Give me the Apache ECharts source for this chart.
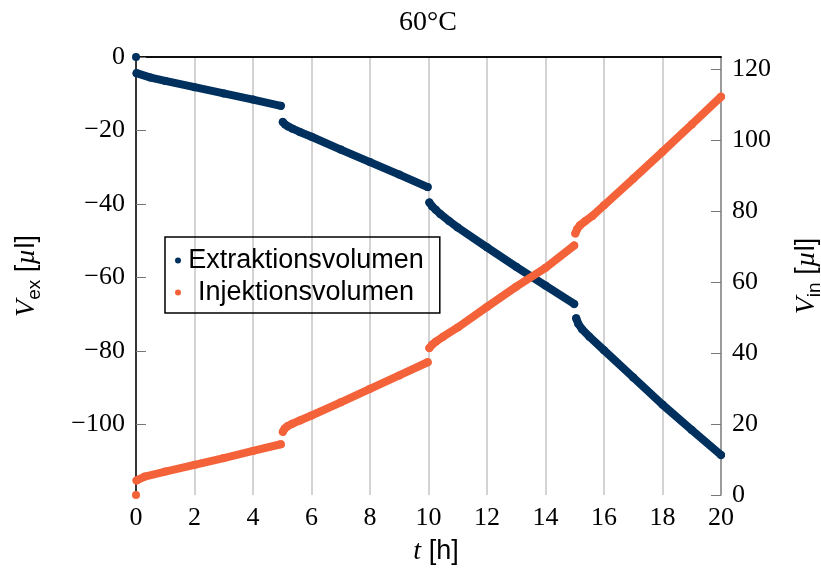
<!DOCTYPE html>
<html>
<head>
<meta charset="utf-8">
<script src="https://cdn.jsdelivr.net/npm/echarts@6/dist/echarts.min.js"></script>
<style>
html,body{margin:0;padding:0;background:#fff;}
#c{width:821px;height:575px;}
</style>
</head>
<body>
<div id="c"></div>
<script>
// ---- data ----
const xTicks = [0, 2, 4, 6, 8, 10, 12, 14, 16, 18, 20];
const leftTicks = [-100, -80, -60, -40, -20, 0];
const rightTicks = [0, 20, 40, 60, 80, 100, 120];

// Extraktionsvolumen (left axis), four segments + start point
const exStartT = [0];
const exStartV = [0];
const exT1 = [0.02, 0.5, 1, 2, 3, 4, 4.95];
const exV1 = [-4.4, -5.6, -6.5, -8.2, -9.9, -11.6, -13.3];
const exT2 = [5.02, 5.1, 5.2, 5.35, 5.6, 6, 7, 8, 9, 9.97];
const exV2 = [-17.7, -18.4, -18.9, -19.5, -20.4, -21.7, -25.2, -28.6, -32.0, -35.4];
const exT3 = [10.03, 10.12, 10.25, 10.4, 10.7, 11, 12, 13, 14, 14.98];
const exV3 = [-39.6, -40.6, -41.6, -42.7, -44.6, -46.4, -51.8, -57.1, -62.2, -67.2];
const exT4 = [15.05, 15.12, 15.25, 15.5, 16, 17, 18, 19, 20];
const exV4 = [-71.1, -72.6, -74.1, -76.1, -79.8, -87.2, -94.6, -101.5, -108.3];

// Injektionsvolumen (right axis)
const inStartT = [0];
const inStartV = [0];
const inT1 = [0.02, 0.3, 1, 2, 3, 4, 4.95];
const inV1 = [4.1, 5.2, 6.6, 8.5, 10.4, 12.4, 14.3];
const inT2 = [5.02, 5.08, 5.18, 5.35, 5.6, 6, 7, 8, 9, 9.97];
const inV2 = [17.8, 18.7, 19.4, 20.1, 21.0, 22.4, 26.1, 29.9, 33.7, 37.4];
const inT3 = [10.03, 10.12, 10.25, 10.5, 11, 12, 13, 14, 14.98];
const inV3 = [41.4, 42.3, 43.2, 44.6, 47.2, 53.0, 58.7, 64.0, 70.3];
const inT4 = [15.02, 15.08, 15.18, 15.35, 15.6, 16, 17, 18, 19, 20];
const inV4 = [73.7, 74.9, 76.0, 77.1, 78.6, 81.6, 89.1, 96.7, 104.4, 112.2];

function build(pairs) {
  const out = [];
  pairs.forEach(function (p, k) {
    if (k > 0) out.push([p[0][0], '-']);
    p[0].forEach(function (t, i) { out.push([t, p[1][i]]); });
  });
  return out;
}
const exData = build([[exStartT, exStartV], [exT1, exV1], [exT2, exV2], [exT3, exV3], [exT4, exV4]]);
const inData = build([[inStartT, inStartV], [inT1, inV1], [inT2, inV2], [inT3, inV3], [inT4, inV4]]);

const navy = '#00305e';
const orange = '#f4623a';
const serif = '"Liberation Serif", "DejaVu Serif", serif';
const sans = '"Liberation Sans", Arial, sans-serif';

const chart = echarts.init(document.getElementById('c'), null, {renderer: 'canvas'});
const minusFmt = function (v) { return v < 0 ? '\u2212' + Math.abs(v) : String(v); };

const nameRich = {
  v: {fontFamily: serif, fontStyle: 'italic', fontSize: 28, color: '#000', lineHeight: 34},
  sub: {fontFamily: sans, fontSize: 19, color: '#000', verticalAlign: 'bottom', lineHeight: 19},
  s: {fontFamily: sans, fontSize: 27, color: '#000', lineHeight: 34},
  mu: {fontFamily: serif, fontStyle: 'italic', fontSize: 28, color: '#000', lineHeight: 34}
};

chart.setOption({
  animation: false,
  backgroundColor: '#fff',
  grid: {left: 136, right: 100, top: 57, bottom: 80, containLabel: false, outerBoundsMode: 'none'},
  graphic: [{
    type: 'text', x: 428, y: 23,
    style: {text: '60°C', font: '28px ' + serif, fill: '#000', align: 'center', verticalAlign: 'middle'}
  }],
  legend: {
    left: 165, top: 237,
    orient: 'vertical',
    padding: [10, 16, 7, 10],
    itemGap: 5,
    itemWidth: 6, itemHeight: 6,
    borderColor: '#000', borderWidth: 1.5,
    backgroundColor: 'transparent',
    data: [{name: 'Extraktionsvolumen', icon: 'circle'}, {name: 'Injektionsvolumen', icon: 'circle'}],
    formatter: function (n) { return '{c|' + n + '}'; },
    textStyle: {
      fontFamily: sans, fontSize: 27, color: '#000',
      rich: {c: {width: 240, align: 'center', fontSize: 27, fontFamily: sans, color: '#000'}}
    }
  },
  xAxis: [{
    type: 'value', min: 0, max: 20, interval: 2, position: 'bottom',
    axisLine: {show: true, lineStyle: {color: '#000', width: 1.5}},
    axisTick: {show: false},
    splitLine: {show: true, lineStyle: {color: '#c4c4c4', width: 1.5}},
    axisLabel: {fontFamily: serif, fontSize: 26, color: '#000', margin: 10},
    name: '{it|t}{s| [h]}',
    nameLocation: 'middle', nameGap: 43,
    nameTextStyle: {
      padding: [0, 0, 0, 15],
      rich: {
        it: {fontFamily: serif, fontStyle: 'italic', fontSize: 28, color: '#000'},
        s: {fontFamily: sans, fontSize: 27, color: '#000'}
      }
    }
  }, {
    type: 'value', min: 0, max: 20, position: 'top',
    axisLine: {show: true, onZero: false, lineStyle: {color: '#000', width: 1.5}},
    axisTick: {show: false}, axisLabel: {show: false}, splitLine: {show: false}
  }],
  yAxis: [{
    type: 'value', min: -119.2, max: 0, position: 'left',
    axisLine: {show: true, onZero: false, lineStyle: {color: '#000', width: 1.5}},
    axisTick: {show: true, inside: true, length: 10, customValues: leftTicks, lineStyle: {color: '#777', width: 1}},
    axisLabel: {customValues: leftTicks, formatter: minusFmt, fontFamily: serif, fontSize: 26, color: '#000', margin: 11},
    splitLine: {show: false},
    name: '{v|V}{sub|ex}{s| [}{mu|µ}{s|l]}',
    nameLocation: 'middle', nameRotate: 90, nameGap: 92,
    nameTextStyle: {rich: nameRich}
  }, {
    type: 'value', min: 0, max: 123.4, position: 'right',
    axisLine: {show: true, onZero: false, lineStyle: {color: '#888', width: 1.5}},
    axisTick: {show: true, inside: true, length: 10, customValues: rightTicks, lineStyle: {color: '#777', width: 1}},
    axisLabel: {customValues: rightTicks, fontFamily: serif, fontSize: 26, color: '#000', margin: 11},
    splitLine: {show: false},
    name: '{v|V}{sub|in}{s| [}{mu|µ}{s|l]}',
    nameLocation: 'middle', nameRotate: 90, nameGap: 69,
    nameTextStyle: {rich: nameRich}
  }],
  series: [{
    name: 'Extraktionsvolumen', type: 'line', xAxisIndex: 0, yAxisIndex: 0,
    data: exData, connectNulls: false,
    symbol: 'circle', symbolSize: 8, showSymbol: true, showAllSymbol: true,
    itemStyle: {color: navy},
    lineStyle: {color: navy, width: 8, cap: 'round', join: 'round'},
    z: 3
  }, {
    name: 'Injektionsvolumen', type: 'line', xAxisIndex: 0, yAxisIndex: 1,
    data: inData, connectNulls: false,
    symbol: 'circle', symbolSize: 8, showSymbol: true, showAllSymbol: true,
    itemStyle: {color: orange},
    lineStyle: {color: orange, width: 8, cap: 'round', join: 'round'},
    z: 4
  }]
});
</script>
</body>
</html>
